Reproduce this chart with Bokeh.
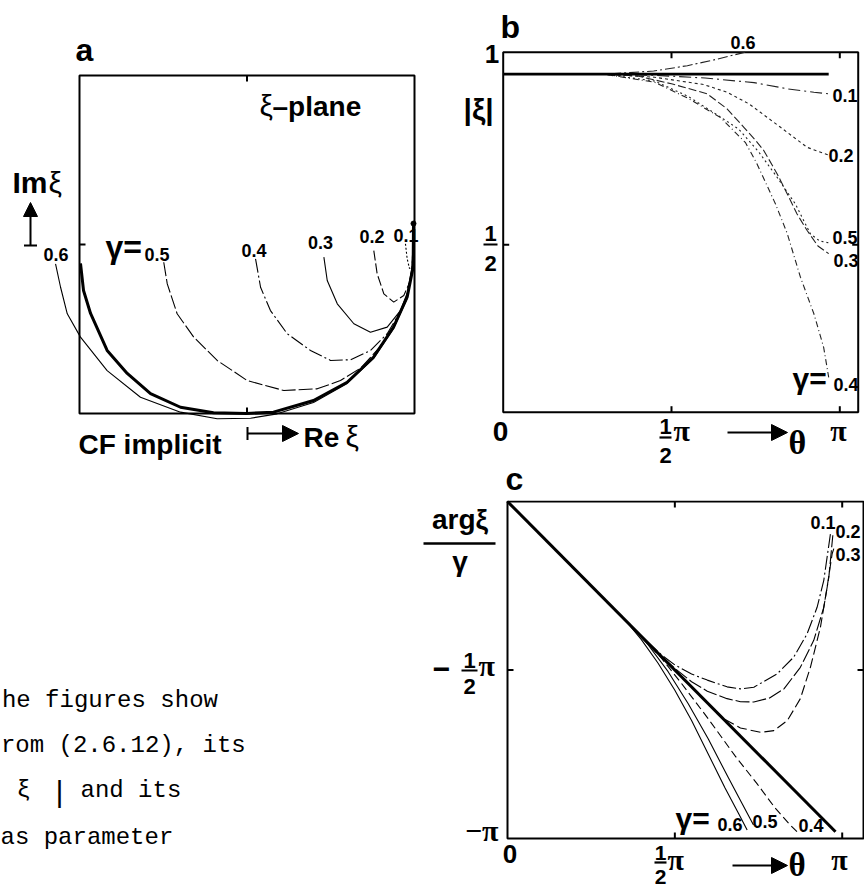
from bokeh.plotting import figure
from bokeh.layouts import row, column
from bokeh.models import Label, Arrow, NormalHead, TeeHead, Range1d
from bokeh.embed import file_html
from bokeh.resources import INLINE

SANS, SERIF, MONO = "Liberation Sans", "Liberation Serif", "Liberation Mono"
INK = "black"

# ---------------------------------------------------------------- data
# (a) xi-plane, CF implicit: Re xi / Im xi of the exact curve and of each gamma
re_exact = [-0.994, -0.976, -0.934, -0.835, -0.715, -0.576, -0.397, -0.200, -0.003,
            0.158, 0.397, 0.598, 0.755, 0.875, 0.956, 0.992, 0.994]
im_exact = [-0.112, -0.272, -0.408, -0.627, -0.763, -0.882, -0.963, -0.996, -1.000,
            -0.992, -0.923, -0.815, -0.667, -0.489, -0.312, -0.134, 0.124]

re_a06 = [-1.143, -1.113, -1.073, -0.994, -0.835, -0.636, -0.397, -0.178, 0.021,
          0.180, 0.397, 0.598, 0.755, 0.875, 0.956, 0.990, 0.994]
im_a06 = [-0.114, -0.253, -0.410, -0.548, -0.746, -0.904, -0.992, -1.031, -1.028,
          -1.002, -0.935, -0.822, -0.675, -0.497, -0.320, -0.136, 0.124]
re_a05 = [-0.497, -0.476, -0.417, -0.318, -0.178, 0.001, 0.220, 0.419, 0.558,
          0.680, 0.790, 0.875, 0.950, 0.986, 0.994]
im_a05 = [-0.105, -0.233, -0.410, -0.548, -0.686, -0.805, -0.864, -0.854, -0.805,
          -0.730, -0.610, -0.485, -0.322, -0.150, 0.124]
re_a04 = [0.051, 0.081, 0.140, 0.240, 0.379, 0.499, 0.618, 0.737, 0.837, 0.916,
          0.958, 0.986, 0.994]
im_a04 = [-0.085, -0.253, -0.391, -0.528, -0.627, -0.686, -0.682, -0.627, -0.528,
          -0.395, -0.300, -0.140, 0.124]
re_a03 = [0.459, 0.479, 0.539, 0.638, 0.737, 0.837, 0.916, 0.958, 0.986, 0.994]
im_a03 = [-0.075, -0.213, -0.351, -0.469, -0.519, -0.489, -0.391, -0.284, -0.130, 0.124]
re_a02 = [0.757, 0.777, 0.817, 0.876, 0.936, 0.976, 0.991, 0.994]
im_a02 = [-0.036, -0.173, -0.292, -0.341, -0.302, -0.213, -0.107, 0.124]
re_a01 = [0.946, 0.956, 0.970, 0.988, 0.994]
im_a01 = [0.004, -0.083, -0.142, -0.130, 0.124]

# (b) |xi| against theta (theta in units of pi)
t_b_exact = [0.0, 0.967]
v_b_exact = [0.943, 0.943]
t_b01 = [0.0, 0.30, 0.45, 0.60, 0.745, 0.844, 0.923, 0.967]
v_b01 = [0.943, 0.943, 0.940, 0.933, 0.921, 0.905, 0.896, 0.892]
t_b02 = [0.0, 0.30, 0.45, 0.596, 0.665, 0.730, 0.764, 0.824, 0.903, 0.967]
v_b02 = [0.943, 0.943, 0.935, 0.916, 0.896, 0.866, 0.844, 0.805, 0.753, 0.733]
t_b03 = [0.0, 0.30, 0.40, 0.50, 0.606, 0.665, 0.715, 0.750, 0.774, 0.814, 0.844,
         0.873, 0.903, 0.935, 0.967]
v_b03 = [0.943, 0.943, 0.938, 0.918, 0.892, 0.853, 0.805, 0.771, 0.745, 0.684, 0.632,
         0.580, 0.537, 0.497, 0.477]
t_b04 = [0.0, 0.30, 0.45, 0.55, 0.646, 0.72, 0.753, 0.809, 0.844, 0.883, 0.923, 0.952, 0.967]
v_b04 = [0.943, 0.943, 0.922, 0.880, 0.830, 0.765, 0.712, 0.606, 0.529, 0.416, 0.321, 0.234, 0.156]
t_b05 = [0.0, 0.30, 0.45, 0.55, 0.64, 0.70, 0.76, 0.81, 0.868, 0.913, 0.94, 0.967]
v_b05 = [0.943, 0.943, 0.925, 0.885, 0.835, 0.800, 0.740, 0.680, 0.606, 0.528, 0.510, 0.505]
t_b06 = [0.0, 0.30, 0.447, 0.547, 0.626, 0.705, 0.72]
v_b06 = [0.943, 0.943, 0.951, 0.965, 0.980, 0.997, 1.0]

# (c) arg(xi)/gamma against theta (both in units of pi)
t_c_exact = [0.0, 0.98]
v_c_exact = [0.0, -0.98]
t_c01 = [0.0, 0.40, 0.46, 0.50, 0.55, 0.597, 0.656, 0.696, 0.736, 0.806, 0.855, 0.895,
         0.925, 0.945, 0.965]
v_c01 = [0.0, -0.40, -0.455, -0.485, -0.512, -0.530, -0.550, -0.556, -0.551, -0.511,
         -0.462, -0.393, -0.314, -0.234, -0.095]
t_c02 = [0.0, 0.45, 0.50, 0.55, 0.597, 0.656, 0.696, 0.736, 0.783, 0.826, 0.875, 0.915,
         0.945, 0.960, 0.972]
v_c02 = [0.0, -0.45, -0.495, -0.535, -0.563, -0.585, -0.594, -0.595, -0.583, -0.556,
         -0.492, -0.412, -0.314, -0.225, -0.10]
t_c03 = [0.0, 0.60, 0.647, 0.696, 0.756, 0.796, 0.836, 0.875, 0.905, 0.935, 0.955, 0.970, 0.978]
v_c03 = [0.0, -0.60, -0.645, -0.672, -0.685, -0.680, -0.650, -0.585, -0.492, -0.373,
         -0.254, -0.155, -0.13]
t_c04 = [0.0, 0.40, 0.46, 0.52, 0.60, 0.68, 0.746, 0.80, 0.84, 0.866]
v_c04 = [0.0, -0.40, -0.465, -0.54, -0.645, -0.755, -0.838, -0.91, -0.955, -0.981]
t_c05 = [0.0, 0.37, 0.42, 0.48, 0.54, 0.60, 0.66, 0.70, 0.735]
v_c05 = [0.0, -0.37, -0.425, -0.505, -0.60, -0.705, -0.82, -0.895, -0.96]
t_c06 = [0.0, 0.35, 0.40, 0.45, 0.50, 0.55, 0.60, 0.65, 0.69, 0.716]
v_c06 = [0.0, -0.35, -0.41, -0.48, -0.56, -0.65, -0.75, -0.85, -0.925, -0.975]

# axis extents of the boxes and tick positions
B_TMAX, B_VMIN = 1.0547, 0.0654
C_TMAX = 1.0637
ticks_theta = [0.5, 1.0]

# Label text sits a little low of its nominal baseline; lift it by this share of the size
BASE_LIFT = 0.33

# page split: upper row (panels a, b) and lower row (text, panel c)
ROW_SPLIT = 500


# ---------------------------------------------------------------- helpers
class Canvas:
    """A figure whose frame fills the canvas; page pixels map to data units."""

    def __init__(self, left, top, w, h, xfit, yfit):
        d0, d1, p0, p1 = xfit
        self.kx = (d1 - d0) / (p1 - p0)
        self.x0 = d0 - p0 * self.kx
        d0y, d1y, q0, q1 = yfit
        self.ky = (d0y - d1y) / (q1 - q0)
        self.ytop = d0y + q0 * self.ky
        self.left, self.top = left, top
        self.p = figure(width=w, height=h,
                        x_range=Range1d(self.x0, self.x0 + w * self.kx),
                        y_range=Range1d(self.ytop - h * self.ky, self.ytop),
                        x_axis_type=None, y_axis_type=None,
                        toolbar_location=None, output_backend="svg",
                        min_border=0, outline_line_color=None)
        self.p.background_fill_color = "white"
        self.p.border_fill_color = "white"

    def X(self, px):
        return self.x0 + (px - self.left) * self.kx

    def Y(self, py):
        return self.ytop - (py - self.top) * self.ky

    def text(self, s, px, py, size, font=SANS, align="left", style="bold"):
        self.p.add_layout(Label(x=self.X(px), y=self.Y(py - BASE_LIFT * size), text=s,
                                text_font=font, text_font_size=f"{size}px",
                                text_font_style=style, text_align=align,
                                text_baseline="alphabetic", text_color=INK))

    def frac(self, cx, base1, bar, base2, half, size=22):
        self.text("1", cx, base1, size, align="center")
        self.text("2", cx, base2, size, align="center")
        self.p.segment(x0=[self.X(cx - half)], y0=[self.Y(bar)],
                       x1=[self.X(cx + half)], y1=[self.Y(bar)],
                       line_color=INK, line_width=2.2)

    def arrow(self, px0, py0, px1, py1, tee=False, size=15):
        start = TeeHead(size=13, line_width=2, line_color=INK) if tee else None
        self.p.add_layout(Arrow(x_start=self.X(px0), y_start=self.Y(py0),
                                x_end=self.X(px1), y_end=self.Y(py1),
                                line_width=2, line_color=INK, start=start,
                                end=NormalHead(size=size, line_color=INK, fill_color=INK)))

    def box(self, x0, x1, y0, y1):
        self.p.quad(left=[x0], right=[x1], bottom=[y0], top=[y1], fill_color=None,
                    line_color=INK, line_width=2)

    def ticks(self, xs, ys, dxs, dys, length=6):
        # inward ticks: (dx, dy) are unit directions in screen pixels (down = +dy)
        x1 = [x + dx * length * self.kx for x, dx in zip(xs, dxs)]
        y1 = [y - dy * length * self.ky for y, dy in zip(ys, dys)]
        self.p.segment(x0=xs, y0=ys, x1=x1, y1=y1, line_color=INK, line_width=2)


# ---------------------------------------------------------------- panel a
A = Canvas(0, 0, 440, ROW_SPLIT, (-1, 1, 79, 414), (1, -1, 75, 413))
pa = A.p
A.box(-1, 1, -1, 1)
A.ticks([0, 0, -1], [1, -1, 0], [0, 0, 1], [1, -1, 0])

curves_a = [
    (re_a06, im_a06, "solid"), (re_a05, im_a05, "14 3"), (re_a04, im_a04, "14 3 2 3"),
    (re_a03, im_a03, "solid"), (re_a02, im_a02, "10 3"), (re_a01, im_a01, "2 2"),
]
for xs, ys, dash in curves_a:
    pa.line(xs, ys, line_color=INK, line_width=1.1, line_dash=dash)
pa.line(re_exact, im_exact, line_color=INK, line_width=3)
pa.scatter([re_exact[-1]], [im_exact[-1]], size=5, color=INK)

A.text("a", 75, 60, 32)
A.text("ξ", 259, 115, 30, style="normal")
A.text("–plane", 272, 115, 28)
A.text("Im", 12, 192, 30)
A.text("ξ", 48, 192, 30, style="normal")
A.arrow(30, 245, 30, 202, tee=True, size=14)
A.text("0.6", 55.5, 260, 18, align="center")
A.text("γ=", 105, 257, 32)
A.text("0.5", 156.5, 260, 18, align="center")
A.text("0.4", 253.5, 256, 18, align="center")
A.text("0.3", 320, 248, 18, align="center")
A.text("0.2", 371.5, 242, 18, align="center")
A.text("0.1", 405.5, 241, 18, align="center")
A.text("CF implicit", 78, 453, 28)
A.arrow(247, 433, 298, 433, tee=True, size=16)
A.text("Re", 303, 446, 28)
A.text("ξ", 345, 446, 30, style="normal")

# ---------------------------------------------------------------- running text
T = Canvas(0, ROW_SPLIT, 400, 890 - ROW_SPLIT, (0, 400, 0, 400), (0, -400, 0, 400))
T.text("he figures show", 1.4, 708, 24, font=MONO, style="normal")
T.text("rom (2.6.12), its", 0.4, 753, 24, font=MONO, style="normal")
T.text("ξ", 16, 798, 24, font=MONO, style="normal")
T.text("|", 50, 803, 30, font=MONO, style="normal")
T.text("and its", 80, 798, 24, font=MONO, style="normal")
T.text("as parameter", 0, 845, 24, font=MONO, style="normal")

# ---------------------------------------------------------------- panel b
B = Canvas(440, 0, 424, ROW_SPLIT, (0, 1, 62.7, 399.3), (1, 0.5, 51.7, 244.3))
pb = B.p
B.box(0, B_TMAX, B_VMIN, 1)
B.ticks(ticks_theta + ticks_theta + [0, B_TMAX],
        [1, 1, B_VMIN, B_VMIN, 0.5, 0.5],
        [0, 0, 0, 0, 1, -1], [1, 1, -1, -1, 0, 0])

curves_b = [
    (t_b06, v_b06, "10 3 2 3"), (t_b05, v_b05, "2 3"), (t_b04, v_b04, "6 3 1 3"),
    (t_b03, v_b03, "8 3"), (t_b02, v_b02, "3 3"), (t_b01, v_b01, "12 4 2 4"),
]
for xs, ys, dash in curves_b:
    pb.line(xs, ys, line_color="#222222", line_width=1.1, line_dash=dash)
pb.line(t_b_exact, v_b_exact, line_color=INK, line_width=2.6)

B.text("b", 500, 37, 32)
B.text("1", 491.5, 62, 26, align="center")
B.text("|ξ|", 463, 119, 30)
B.frac(490, 240, 244, 270, 7)
B.text("0.6", 742.5, 48, 18, align="center")
B.text("0.1", 832, 101, 18)
B.text("0.2", 828, 161, 18)
B.text("0.5", 832, 243, 18)
B.text("0.3", 833, 266, 18)
B.text("γ=", 792, 388, 30)
B.text("0.4", 833, 390, 18)
B.text("0", 500, 440, 28, align="center")
B.frac(665, 433, 437, 462, 6)
B.text("π", 673, 440, 30, font=SERIF)
B.arrow(727, 432, 787, 432, size=16)
B.text("θ", 788, 453, 34, font=SERIF)
B.text("π", 838, 440, 30, font=SERIF, align="center")
B.text("c", 505, 489, 32)

# ---------------------------------------------------------------- panel c
C = Canvas(400, ROW_SPLIT, 464, 890 - ROW_SPLIT, (0, 1, 107, 441.7),
           (0, -1, 501 - ROW_SPLIT, 838 - ROW_SPLIT))
pc = C.p
C.box(0, C_TMAX, -1, 0)
C.ticks(ticks_theta + ticks_theta + [0, C_TMAX],
        [0, 0, -1, -1, -0.5, -0.5],
        [0, 0, 0, 0, 1, -1], [1, 1, -1, -1, 0, 0])

curves_c = [
    (t_c01, v_c01, "14 3 2 3"), (t_c02, v_c02, "14 3"), (t_c03, v_c03, "10 4"),
    (t_c04, v_c04, "8 4"), (t_c05, v_c05, "solid"), (t_c06, v_c06, "solid"),
]
for xs, ys, dash in curves_c:
    pc.line(xs, ys, line_color=INK, line_width=1.1, line_dash=dash)
pc.line(t_c_exact, v_c_exact, line_color=INK, line_width=3)

C.text("argξ", 459.5, 528, 28, align="center")
pc.segment(x0=[C.X(423)], y0=[C.Y(543)], x1=[C.X(495)], y1=[C.Y(543)],
           line_color=INK, line_width=2.5)
C.text("γ", 459.5, 570, 28, align="center")
C.text("−", 441, 678, 30, align="center")
C.frac(469, 667, 670, 693, 8)
C.text("π", 478, 675, 30, font=SERIF)
C.text("−π", 498, 840, 30, font=SERIF, align="right")
C.text("0", 509.5, 862, 26, align="center")
C.frac(660, 859, 862, 883, 6, size=21)
C.text("π", 667, 869, 30, font=SERIF)
C.arrow(732, 865, 787, 865, size=16)
C.text("θ", 788, 875, 33, font=SERIF)
C.text("π", 839, 869, 30, font=SERIF, align="center")
C.text("0.1", 810, 528, 18)
C.text("0.2", 835, 537, 18)
C.text("0.3", 835, 560, 18)
C.text("γ=", 675, 828, 30)
C.text("0.6", 717, 830, 18)
C.text("0.5", 752, 827, 18)
C.text("0.4", 798, 831, 18)

layout = column(row(pa, pb), row(T.p, pc))
open("out.html", "w").write(file_html(layout, INLINE))
